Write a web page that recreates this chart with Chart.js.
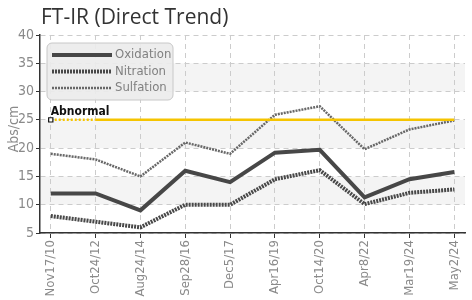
<!DOCTYPE html>
<html>
<head>
<meta charset="utf-8">
<script src="https://cdn.jsdelivr.net/npm/chart.js@4.4.1/dist/chart.umd.min.js"></script>
<style>
  html, body { margin: 0; padding: 0; background: #fff; }
  #wrap { width: 472px; height: 300px; }
</style>
</head>
<body>
<div id="wrap"><canvas id="ftir"></canvas></div>
<script>
// sample dates and readings (Abs/cm)
const dates = ['Nov17/10', 'Oct24/12', 'Aug24/14', 'Sep28/16', 'Dec5/17',
  'Apr16/19', 'Oct14/20', 'Apr8/22', 'Mar19/24', 'May2/24'];
const oxidation = [12, 12, 9, 16, 14, 19.2, 19.7, 11.3, 14.5, 15.8];
const nitration = [8, 7, 6, 10, 10, 14.5, 16.1, 10.1, 12.1, 12.7];
const sulfation = [19, 18, 15, 21, 19, 25.9, 27.4, 19.8, 23.3, 24.9];
const abnormalLimit = 25;
const yTicks = [5, 10, 15, 20, 25, 30, 35, 40];

const narrow = '"Liberation Sans Narrow", "DejaVu Sans Condensed", sans-serif';

function pts(arr) {
  return arr.map((v, i) => ({ x: i, y: v }));
}

// alternating grey bands + title + axis title + legend box
const decor = {
  id: 'decor',
  beforeDraw(chart) {
    const { ctx, chartArea: a, scales: { y } } = chart;
    ctx.save();
    ctx.fillStyle = '#fff';
    ctx.fillRect(0, 0, chart.width, chart.height);
    ctx.fillStyle = '#f4f4f4';
    for (let i = 1; i < yTicks.length - 1; i += 2) {
      const top = y.getPixelForValue(yTicks[i + 1]);
      const bot = y.getPixelForValue(yTicks[i]);
      ctx.fillRect(a.left, top, a.right - a.left, bot - top);
    }
    ctx.restore();
  },
  afterDraw(chart) {
    const { ctx, scales: { x, y } } = chart;
    ctx.save();
    // title
    ctx.fillStyle = '#333';
    ctx.font = '21px "Open Sans", sans-serif';
    ctx.textBaseline = 'alphabetic';
    ctx.textAlign = 'left';
    ctx.fillText('FT-IR (Direct Trend)', 41, 24);

    // y axis title
    ctx.save();
    ctx.translate(14, 129);
    ctx.rotate(-Math.PI / 2);
    ctx.fillStyle = '#8a8a8a';
    ctx.font = '14px ' + narrow;
    ctx.textAlign = 'center';
    ctx.textBaseline = 'middle';
    ctx.fillText('Abs/cm', 0, 0);
    ctx.restore();

    // abnormal label
    ctx.fillStyle = '#111';
    ctx.font = 'bold 12px ' + narrow;
    ctx.textAlign = 'left';
    ctx.textBaseline = 'alphabetic';
    ctx.fillText('Abnormal', x.getPixelForValue(0), y.getPixelForValue(abnormalLimit) - 5);

    // legend
    const bx = 47, by = 43, bw = 126, bh = 57;
    ctx.beginPath();
    ctx.roundRect(bx, by, bw, bh, 5);
    ctx.fillStyle = 'rgba(236,236,236,0.92)';
    ctx.fill();
    ctx.strokeStyle = '#c8c8c8';
    ctx.lineWidth = 1;
    ctx.stroke();
    const items = chart.data.datasets.filter(d => d.inLegend);
    items.forEach((d, i) => {
      const ly = 55 + i * 16.5;
      ctx.beginPath();
      ctx.setLineDash(d.borderDash || []);
      ctx.strokeStyle = d.borderColor;
      ctx.lineWidth = d.borderWidth;
      ctx.moveTo(52, ly);
      ctx.lineTo(112, ly);
      ctx.stroke();
      ctx.setLineDash([]);
      ctx.fillStyle = '#808080';
      ctx.font = '13px ' + narrow;
      ctx.textBaseline = 'middle';
      ctx.fillText(d.label, 115, ly);
    });
    ctx.restore();
  }
};

const ctx = document.getElementById('ftir').getContext('2d');

new Chart(ctx, {
  type: 'line',
  data: {
    datasets: [
      {
        label: 'Abnormal',
        data: pts(dates.map(() => abnormalLimit)),
        borderColor: '#f5c400',
        borderWidth: 2.5,
        pointRadius: c => (c.dataIndex === 0 ? 3 : 0),
        pointStyle: 'rect',
        pointBackgroundColor: '#fff',
        pointBorderColor: '#111',
        pointBorderWidth: 1.2,
        segment: {
          borderDash: c => (c.p0DataIndex === 0 ? [2, 2] : undefined)
        },
        order: 0
      },
      {
        label: 'Oxidation',
        inLegend: true,
        data: pts(oxidation),
        borderColor: '#474747',
        borderWidth: 4,
        pointRadius: 0,
        order: 1
      },
      {
        label: 'Nitration',
        inLegend: true,
        data: pts(nitration),
        borderColor: '#484848',
        borderWidth: 4,
        borderDash: [2, 1],
        pointRadius: 0,
        order: 2
      },
      {
        label: 'Sulfation',
        inLegend: true,
        data: pts(sulfation),
        borderColor: '#686868',
        borderWidth: 2.5,
        borderDash: [2, 1],
        pointRadius: 0,
        order: 3
      }
    ]
  },
  options: {
    responsive: true,
    maintainAspectRatio: false,
    animation: false,
    layout: { padding: { top: 35, right: 0, bottom: 0, left: 0 } },
    plugins: {
      legend: { display: false },
      title: { display: false },
      tooltip: { enabled: false }
    },
    scales: {
      x: {
        type: 'linear',
        min: -0.24,
        max: 9.24,
        afterBuildTicks: s => { s.ticks = dates.map((_, i) => ({ value: i })); },
        afterFit: s => { s.height = 67; },
        ticks: {
          autoSkip: false,
          maxRotation: 90,
          minRotation: 90,
          padding: 2,
          color: '#8a8a8a',
          font: { family: narrow, size: 13 },
          callback: v => dates[v]
        },
        grid: { color: '#cccccc', tickColor: '#333', tickLength: 5, tickBorderDash: [] },
        border: { display: true, color: '#333', width: 1.5, dash: [5, 4] }
      },
      y: {
        min: 5,
        max: 40,
        afterBuildTicks: s => { s.ticks = yTicks.map(v => ({ value: v })); },
        afterFit: s => { s.width = 40; },
        ticks: {
          padding: 2,
          color: '#8a8a8a',
          font: { family: narrow, size: 14 }
        },
        grid: { color: '#cccccc', tickColor: '#333', tickLength: 4, tickBorderDash: [] },
        border: { display: true, color: '#333', width: 1.5, dash: [5, 4] }
      }
    }
  },
  plugins: [decor]
});
</script>
</body>
</html>
